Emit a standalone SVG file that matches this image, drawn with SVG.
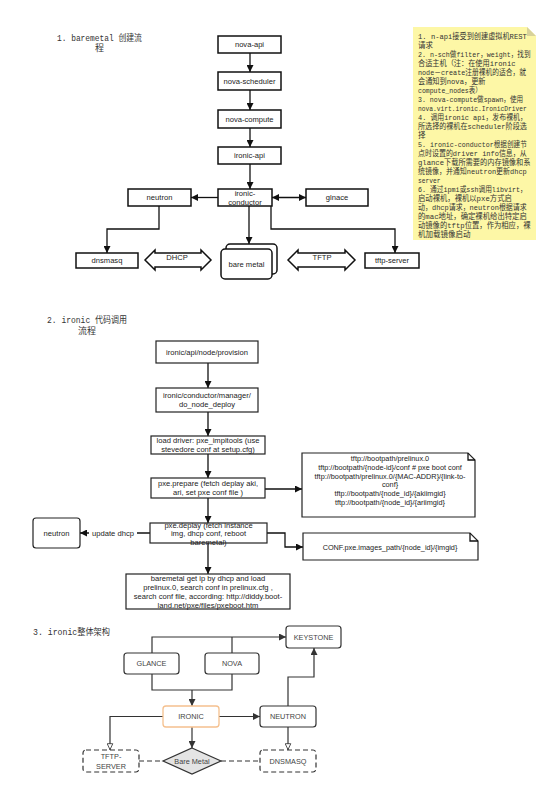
<svg xmlns="http://www.w3.org/2000/svg" width="554" height="793" viewBox="0 0 554 793">
<style>
.bg{fill:#fff}
.b1{fill:#fff;stroke:#111;stroke-width:1.5}
.b2{fill:#fff;stroke:#222;stroke-width:1.2}
.b3{fill:#fff;stroke:#333;stroke-width:1.2}
.dash{fill:#fff;stroke:#333;stroke-width:1.2;stroke-dasharray:5,3}
.t{font-family:"Liberation Sans",Arial,sans-serif;font-size:7.6px;fill:#222;text-anchor:middle}
.t3{font-family:"Liberation Sans",Arial,sans-serif;font-size:7.3px;fill:#444;text-anchor:middle}
.nt{font-family:"Liberation Sans",Arial,sans-serif;font-size:7.3px;fill:#222;text-anchor:middle}
.ttl{font-family:"Liberation Mono","Noto Sans CJK SC",monospace;font-size:9px;fill:#333}
.note{font-family:"Liberation Mono","Noto Sans CJK SC",monospace;font-size:7.5px;fill:#333}
.c{fill:none;stroke:#111;stroke-width:1.3}
.c3{fill:none;stroke:#333;stroke-width:1.2}
.cd{fill:none;stroke:#333;stroke-width:1.2;stroke-dasharray:5,3}
</style>
<defs>
<marker id="ah" viewBox="0 0 10 10" refX="10" refY="5" markerWidth="7" markerHeight="7" markerUnits="userSpaceOnUse" orient="auto-start-reverse"><path d="M0,0 L10,5 L0,10 z" fill="#111"/></marker>
<marker id="ah3" viewBox="0 0 10 10" refX="10" refY="5" markerWidth="7" markerHeight="7" markerUnits="userSpaceOnUse" orient="auto"><path d="M0,0 L10,5 L0,10 z" fill="#333"/></marker>
<marker id="ahh" viewBox="0 0 10 10" refX="10" refY="5" markerWidth="7" markerHeight="7" markerUnits="userSpaceOnUse" orient="auto"><path d="M1,1 L9.5,5 L1,9 z" fill="#fff" stroke="#333" stroke-width="1.2"/></marker>
</defs>
<rect class="bg" x="0" y="0" width="554" height="793"/>

<g id="titles">
<text class="ttl" x="57" y="40.5" textLength="85" lengthAdjust="spacingAndGlyphs">1. baremetal 创建流</text>
<text class="ttl" x="95" y="51">程</text>
<text class="ttl" x="47" y="323" textLength="80" lengthAdjust="spacingAndGlyphs">2. ironic 代码调用</text>
<text class="ttl" x="78" y="333.5">流程</text>
<text class="ttl" x="33" y="634.5" textLength="77" lengthAdjust="spacingAndGlyphs">3. ironic整体架构</text>
</g>

<g id="connectors">
<path class="c" d="M250,53 V72" marker-end="url(#ah)"/>
<path class="c" d="M250,90 V110" marker-end="url(#ah)"/>
<path class="c" d="M250,128 V147" marker-end="url(#ah)"/>
<path class="c" d="M250,164 V189" marker-end="url(#ah)"/>
<path class="c" d="M218,197.5 H191" marker-end="url(#ah)"/>
<path class="c" d="M272,197.5 H306" marker-start="url(#ah)" marker-end="url(#ah)"/>
<path class="c" d="M159,206 V229 H107 V253" marker-end="url(#ah)"/>
<path class="c" d="M249,206 V244" marker-end="url(#ah)"/>
<path class="c" d="M271,206 V229 H395 V253" marker-end="url(#ah)"/>
<path class="c" d="M208,363 V388" marker-end="url(#ah)"/>
<path class="c" d="M208,412 V436" marker-end="url(#ah)"/>
<path class="c" d="M208,454 V478" marker-end="url(#ah)"/>
<path class="c" d="M208,498 V523" marker-end="url(#ah)"/>
<path class="c" d="M208,543 V574" marker-end="url(#ah)"/>
<path class="c" d="M265,489 H302" marker-end="url(#ah)"/>
<path class="c" d="M150,533 H80" marker-end="url(#ah)"/>
<rect x="89" y="528" width="48" height="10" fill="#fff"/>
<text class="t" x="113" y="535.7">update dhcp</text>
<path class="c" d="M267,533 H285 V547 H303" marker-end="url(#ah)"/>
<path class="c3" d="M152,653 V637 H286" marker-end="url(#ah3)"/>
<path class="c3" d="M232,653 V637"/>
<path class="c3" d="M152,674 V690 H232 V674"/>
<path class="c3" d="M192,690 V706" marker-end="url(#ah3)"/>
<path class="c3" d="M219,716.5 H260" marker-end="url(#ah3)"/>
<path class="c3" d="M288,706 V677 H314 V648" marker-end="url(#ah3)"/>
<path class="c3" d="M163,716.5 H110 V750" marker-end="url(#ahh)"/>
<path class="c3" d="M192,727 V748" marker-end="url(#ah3)"/>
<path class="c3" d="M288,727 V750" marker-end="url(#ahh)"/>
<path class="cd" d="M139,761 H163"/>
<path class="cd" d="M221,761 H260"/>
</g>

<g id="nova-api"><rect class="b1" x="218" y="36" width="63" height="17"/><text class="t" x="249.5" y="47.2">nova-api</text></g>
<g id="nova-scheduler"><rect class="b1" x="218" y="72" width="63" height="18"/><text class="t" x="249.5" y="83.7">nova-scheduler</text></g>
<g id="nova-compute"><rect class="b1" x="218" y="110" width="63" height="18"/><text class="t" x="249.5" y="121.7">nova-compute</text></g>
<g id="ironic-api"><rect class="b1" x="218" y="147" width="63" height="17"/><text class="t" x="249.5" y="158.2">ironic-api</text></g>
<g id="ironic-conductor"><rect class="b1" x="218" y="189" width="54" height="17"/><text class="t" x="245" y="195.5">ironic-</text><text class="t" x="245" y="204.5">conductor</text></g>
<g id="neutron1"><rect class="b1" x="128" y="189" width="63" height="17"/><text class="t" x="159.5" y="200.2">neutron</text></g>
<g id="glnace"><rect class="b1" x="306" y="189" width="62" height="17"/><text class="t" x="337" y="200.2">glnace</text></g>
<g id="dnsmasq"><rect class="b1" x="76" y="253" width="62" height="15"/><text class="t" x="107" y="263.2">dnsmasq</text></g>
<g id="tftp-server"><rect class="b1" x="365" y="253" width="54" height="15"/><text class="t" x="392" y="263.2">tftp-server</text></g>
<g id="bare-metal"><rect class="b1" x="226" y="244" width="51" height="30" rx="4"/><rect class="b1" x="221" y="249" width="51" height="30" rx="4"/><text class="t" x="246.5" y="266.5">bare metal</text></g>
<g id="dhcp-arrow"><path class="b1" d="M145,260 L155,250 L155,253 L201,253 L201,250 L211,260 L201,270 L201,267 L155,267 L155,270 Z"/><text class="t" x="177" y="259.5">DHCP</text></g>
<g id="tftp-arrow"><path class="b1" d="M288,260 L298,250 L298,253 L345,253 L345,250 L355,260 L345,270 L345,267 L298,267 L298,270 Z"/><text class="t" x="322" y="259.5">TFTP</text></g>

<g id="note1">
<path d="M413,27 H527 L536,36 V240 H413 Z" fill="#fdf7a6"/>
<path d="M527,27 L536,36 H527 Z" fill="#d8d29a"/>
<text class="note" x="418" y="39" textLength="108.8" lengthAdjust="spacingAndGlyphs">1.  n-api接受到创建虚拟机REST</text>
<text class="note" x="418" y="48" textLength="15" lengthAdjust="spacingAndGlyphs">请求</text>
<text class="note" x="418" y="57" textLength="112.5" lengthAdjust="spacingAndGlyphs">2. n-sch做filter，weight，找到</text>
<text class="note" x="418" y="66" textLength="97.5" lengthAdjust="spacingAndGlyphs">合适主机（注：在使用ironic</text>
<text class="note" x="418" y="75" textLength="108" lengthAdjust="spacingAndGlyphs">node－create注册裸机的适合，就</text>
<text class="note" x="418" y="84" textLength="67.5" lengthAdjust="spacingAndGlyphs">会通知到nova，更新</text>
<text class="note" x="418" y="93" textLength="63.8" lengthAdjust="spacingAndGlyphs">compute_nodes表）</text>
<text class="note" x="418" y="102" textLength="105" lengthAdjust="spacingAndGlyphs">3. nova-compute做spawn，使用</text>
<text class="note" x="418" y="111" textLength="108.8" lengthAdjust="spacingAndGlyphs">nova.virt.ironic.IronicDriver</text>
<text class="note" x="418" y="120" textLength="108.8" lengthAdjust="spacingAndGlyphs">4. 调用ironic api，发布裸机，</text>
<text class="note" x="418" y="129" textLength="108.8" lengthAdjust="spacingAndGlyphs">所选择的裸机在scheduler阶段选</text>
<text class="note" x="418" y="138" textLength="7.5" lengthAdjust="spacingAndGlyphs">择</text>
<text class="note" x="418" y="147" textLength="108.8" lengthAdjust="spacingAndGlyphs">5. ironic-conductor根据创建节</text>
<text class="note" x="418" y="156" textLength="108.8" lengthAdjust="spacingAndGlyphs">点时设置的driver info信息，从</text>
<text class="note" x="418" y="165" textLength="112.5" lengthAdjust="spacingAndGlyphs">glance下载所需要的内存镜像和系</text>
<text class="note" x="418" y="174" textLength="108.8" lengthAdjust="spacingAndGlyphs">统镜像，并通知neutron更新dhcp</text>
<text class="note" x="418" y="183" textLength="22.5" lengthAdjust="spacingAndGlyphs">server</text>
<text class="note" x="418" y="192" textLength="108.8" lengthAdjust="spacingAndGlyphs">6. 通过ipmi或ssh调用libvirt，</text>
<text class="note" x="418" y="201" textLength="93.8" lengthAdjust="spacingAndGlyphs">启动裸机，裸机以pxe方式启</text>
<text class="note" x="418" y="210" textLength="108.8" lengthAdjust="spacingAndGlyphs">动，dhcp请求，neutron根据请求</text>
<text class="note" x="418" y="219" textLength="108.8" lengthAdjust="spacingAndGlyphs">的mac地址，确定裸机给出特定启</text>
<text class="note" x="418" y="228" textLength="112.5" lengthAdjust="spacingAndGlyphs">动镜像的tftp位置，作为相应，裸</text>
<text class="note" x="418" y="237" textLength="52.5" lengthAdjust="spacingAndGlyphs">机加载镜像启动</text>
</g>

<g id="provision"><rect class="b2" x="156" y="341" width="102" height="22"/><text class="t" x="207" y="354.7">ironic/api/node/provision</text></g>
<g id="manager"><rect class="b2" x="156" y="388" width="102" height="24"/><text class="t" x="207" y="398">ironic/conductor/manager/</text><text class="t" x="207" y="406.7">do_node_deploy</text></g>
<g id="load-driver"><rect class="b2" x="151" y="436" width="114" height="18"/><text class="t" x="208" y="443.2">load driver: pxe_impitools (use</text><text class="t" x="208" y="451.7">stevedore conf at setup.cfg)</text></g>
<g id="pxe-prepare"><rect class="b2" x="151" y="478" width="114" height="20"/><text class="t" x="208" y="486.2">pxe.prepare (fetch deplay aki,</text><text class="t" x="208" y="495.2">ari, set pxe conf file )</text></g>
<g id="pxe-deploy"><rect class="b2" x="150" y="523" width="117" height="20"/><text class="t" x="208.5" y="528.2">pxe.deplay (fetch instance</text><text class="t" x="208.5" y="536.2">img, dhcp conf, reboot</text><text class="t" x="208.5" y="544.7">baremetal)</text></g>
<g id="baremetal-boot"><rect class="b2" x="126" y="574" width="164" height="35"/><text class="t" x="208" y="580.7">baremetal get ip by dhcp and load</text><text class="t" x="208" y="589.7">prelinux.0, search conf in prelinux.cfg ,</text><text class="t" x="208" y="599.2">search conf file, according: http://diddy.boot-</text><text class="t" x="208" y="607.7">land.net/pxe/files/pxeboot.htm</text></g>
<g id="neutron2"><rect class="b2" x="33" y="518" width="47" height="30" rx="3"/><text class="t" x="56.5" y="535.7">neutron</text></g>
<g id="tftp-note"><path class="b2" d="M302,453 H468 L475,460 V517 H302 Z"/><path class="c" d="M468,453 V460 H475" stroke-width="1"/>
<text class="nt" x="390" y="461">tftp://bootpath/prelinux.0</text>
<text class="nt" x="390" y="469.8">tftp://bootpath/{node-id}/conf # pxe boot conf</text>
<text class="nt" x="390" y="478.6">tftp://bootpath/prelinux.0/{MAC-ADDR}/{link-to-</text>
<text class="nt" x="390" y="487.4">conf}</text>
<text class="nt" x="390" y="496.2">tftp://bootpath/{node_id}/{akiimgid}</text>
<text class="nt" x="390" y="505">tftp://bootpath/{node_id}/{ariimgid}</text></g>
<g id="conf-note"><path class="b2" d="M303,533 H470 L478,541 V560 H303 Z"/><path class="c" d="M470,533 V541 H478" stroke-width="1"/><text class="nt" x="390" y="549.5">CONF.pxe.images_path/{node_id}/{imgid}</text></g>

<g id="keystone"><rect class="b3" x="286" y="626" width="55" height="22" rx="3"/><text class="t3" x="313.5" y="639.6">KEYSTONE</text></g>
<g id="glance"><rect class="b3" x="124" y="653" width="55" height="21" rx="3"/><text class="t3" x="151.5" y="666.2">GLANCE</text></g>
<g id="nova"><rect class="b3" x="205" y="653" width="54" height="21" rx="3"/><text class="t3" x="232" y="666.2">NOVA</text></g>
<g id="ironic"><rect x="163" y="706" width="56" height="21" rx="3" fill="#fff" stroke="#f5c08e" stroke-width="1.3"/><text class="t3" x="191" y="719.2">IRONIC</text></g>
<g id="neutron3"><rect class="b3" x="260" y="706" width="56" height="21" rx="3"/><text class="t3" x="288" y="719.2">NEUTRON</text></g>
<g id="tftp-server3"><rect class="dash" x="83" y="750" width="56" height="22" rx="3"/><text class="t3" x="111" y="759">TFTP-</text><text class="t3" x="111" y="768.5">SERVER</text></g>
<g id="bare-metal3"><path d="M192,748 L221,761 L192,774 L163,761 Z" fill="#e4e4e4" stroke="#333" stroke-width="1.2"/><text class="t3" x="192" y="763.6">Bare Metal</text></g>
<g id="dnsmasq3"><rect class="dash" x="260" y="750" width="56" height="22" rx="3"/><text class="t3" x="288" y="763.6">DNSMASQ</text></g>
</svg>
